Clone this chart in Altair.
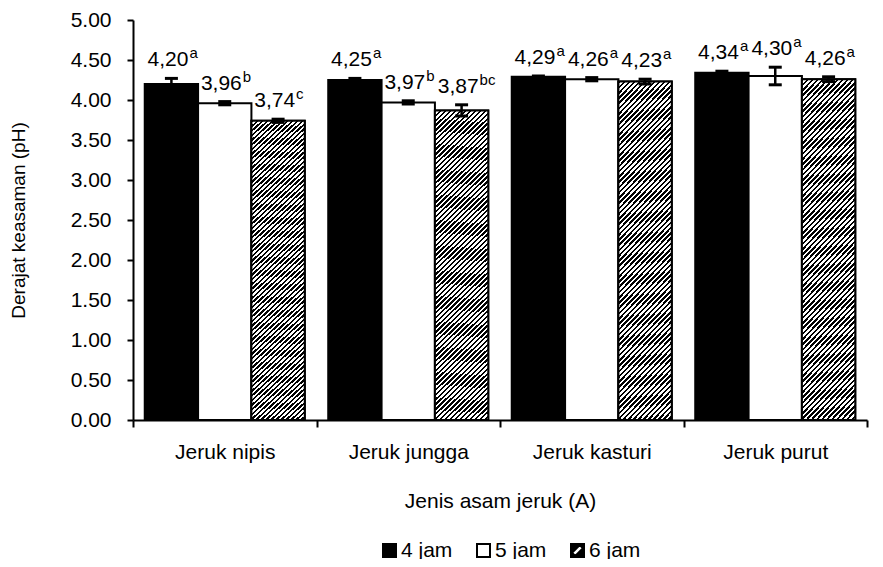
import altair as alt
import pandas as pd

categories = ["Jeruk nipis", "Jeruk jungga", "Jeruk kasturi", "Jeruk purut"]
waktu = ["4 jam", "5 jam", "6 jam"]

ph_4 = [4.20, 4.25, 4.29, 4.34]
ph_5 = [3.96, 3.97, 4.26, 4.30]
ph_6 = [3.74, 3.87, 4.23, 4.26]

err_4 = [0.07, 0.02, 0.01, 0.02]
err_5 = [0.02, 0.02, 0.02, 0.11]
err_6 = [0.02, 0.07, 0.03, 0.03]

notasi_4 = ["a", "a", "a", "a"]
notasi_5 = ["b", "b", "a", "a"]
notasi_6 = ["c", "bc", "a", "a"]

y_ticks = [0, 0.5, 1.0, 1.5, 2.0, 2.5, 3.0, 3.5, 4.0, 4.5, 5.0]

rows = []
for i, c in enumerate(categories):
    for w, vals, errs, nots in zip(waktu, [ph_4, ph_5, ph_6], [err_4, err_5, err_6],
                                   [notasi_4, notasi_5, notasi_6]):
        rows.append(dict(jenis=c, waktu=w, ph=vals[i], err=errs[i], notasi=nots[i],
                         label=f"{vals[i]:.2f}".replace(".", ",")))
df = pd.DataFrame(rows)

# diagonal hatch as a striped linear gradient (style only)
W, H = 53.2, 322.0
gx2 = W * (W + H) / (W * W + H * H)
gy2 = H * (W + H) / (W * W + H * H)
N = int(round((W + H) / 5.0))
stops = []
for k in range(N):
    a, b, c2 = k / N, (k + 0.5) / N, (k + 1) / N
    stops += [{"offset": a, "color": "black"}, {"offset": b, "color": "black"},
              {"offset": b, "color": "white"}, {"offset": c2, "color": "white"}]
hatch = {"gradient": "linear", "x1": 0, "y1": 0, "x2": gx2, "y2": gy2, "stops": stops}

hatch_symbol = "M-1,-1H1V1H-1Z M-0.85,0.35L-0.35,0.85L0.85,-0.35L0.35,-0.85Z"

FS = 21

x = alt.X("jenis:N", sort=categories,
          scale=alt.Scale(domain=categories, paddingInner=0, paddingOuter=0),
          axis=alt.Axis(title="Jenis asam jeruk (A)", labelAngle=0, tickBand="extent",
                        tickSize=7, labelPadding=14, titlePadding=28))
xo = alt.XOffset("waktu:N", sort=waktu,
                 scale=alt.Scale(domain=waktu, paddingInner=0, paddingOuter=0.22))
yaxis = alt.Axis(title="Derajat keasaman (pH)", values=y_ticks, format=".2f",
                 tickSize=6, labelPadding=16, titlePadding=42, titleFontSize=19, grid=False)
yscale = alt.Scale(domain=[0, 5], nice=False)

legend = alt.Legend(title=None, orient="none", legendX=246, legendY=520,
                    direction="horizontal", columns=3, columnPadding=20)
color = alt.Color("waktu:N", sort=waktu,
                  scale=alt.Scale(domain=waktu, range=["black", "white", "black"]),
                  legend=legend)
shape = alt.Shape("waktu:N", sort=waktu,
                  scale=alt.Scale(domain=waktu, range=["square", "square", hatch_symbol]),
                  legend=legend)

base = alt.Chart(df).encode(x=x, xOffset=xo).transform_calculate(
    lo="datum.ph - datum.err", hi="datum.ph + datum.err", mid="datum.ph / 2")

points = base.mark_point(filled=True, size=40, stroke="black", strokeWidth=2, opacity=1).encode(
    y=alt.Y("mid:Q", scale=yscale, axis=yaxis), color=color, shape=shape)

bars = base.mark_bar(stroke="black", strokeWidth=2).encode(
    y=alt.Y("ph:Q", scale=yscale, axis=yaxis), color=color)

hatched = base.transform_filter(alt.datum.waktu == "6 jam").mark_bar(
    fill=hatch, stroke="black", strokeWidth=2).encode(
    y=alt.Y("ph:Q", scale=yscale, axis=yaxis))

rule = base.mark_rule(color="black", strokeWidth=2.5).encode(
    y=alt.Y("lo:Q", scale=yscale, axis=yaxis), y2="hi:Q")
cap_hi = base.mark_tick(color="black", thickness=3, size=13, opacity=1).encode(
    y=alt.Y("hi:Q", scale=yscale, axis=yaxis))
cap_lo = base.mark_tick(color="black", thickness=3, size=13, opacity=1).encode(
    y=alt.Y("lo:Q", scale=yscale, axis=yaxis))

num = base.mark_text(align="right", baseline="alphabetic", dx=17, dy=-12,
                     fontSize=FS, color="black").encode(
    y=alt.Y("hi:Q", scale=yscale, axis=yaxis), text="label:N")
sup = base.mark_text(align="left", baseline="alphabetic", dx=18, dy=-20,
                     fontSize=15, color="black").encode(
    y=alt.Y("hi:Q", scale=yscale, axis=yaxis), text="notasi:N")

chart = alt.layer(points, bars, hatched, rule, cap_hi, cap_lo, num, sup).properties(
    width=734, height=400,
    padding={"left": 125, "top": 12, "right": 8, "bottom": 139},
    autosize="none",
).configure(font="Liberation Sans").configure_view(stroke=None).configure_axis(
    domainColor="black", domainWidth=2, tickColor="black", tickWidth=2,
    labelFontSize=FS, labelColor="black", titleFontSize=FS, titleFontWeight="normal",
    titleColor="black", grid=False,
).configure_legend(
    labelFontSize=FS, labelColor="black", symbolSize=169, symbolStrokeColor="black",
    symbolStrokeWidth=2, labelOffset=1, padding=0,
)

chart.save("out.html", embed_options={"renderer": "svg", "actions": False})
